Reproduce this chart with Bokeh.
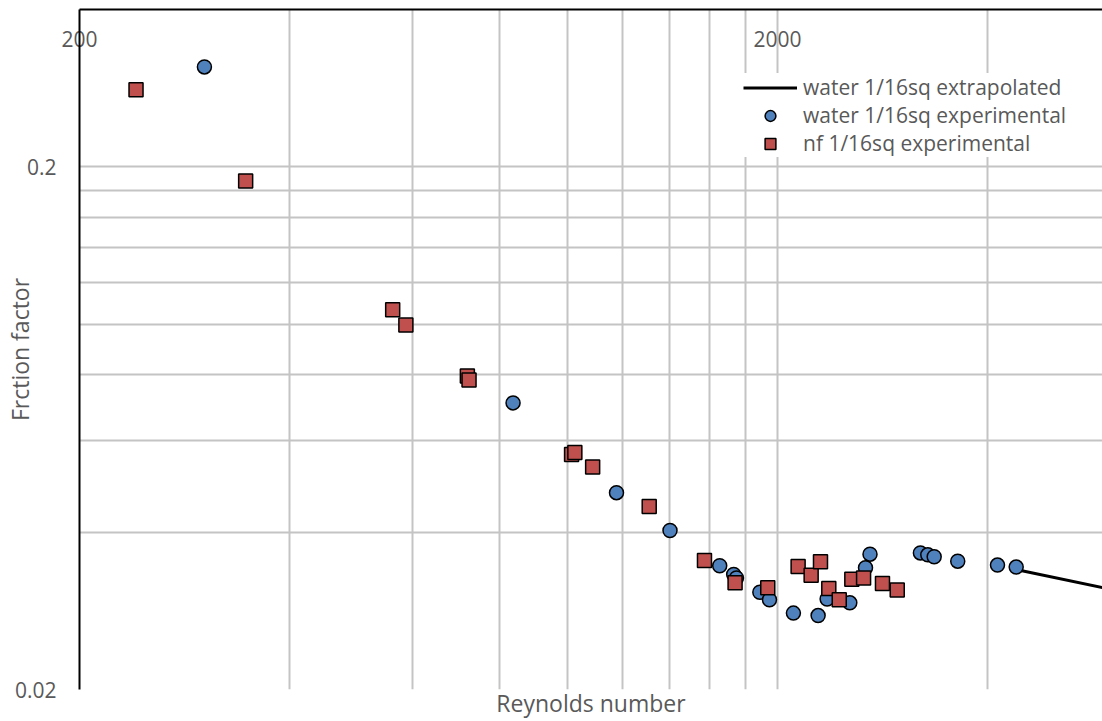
from bokeh.plotting import figure
from bokeh.models import (LogAxis, FixedTicker, Legend, LegendItem, Range1d,
                          CustomJSTickFormatter)
from bokeh.embed import file_html
from bokeh.resources import INLINE

# ---------------- data ----------------
water_re = [302, 836, 1176, 1403, 1653, 1731, 1747, 1887, 1948, 2108, 2287, 2356,
            2539, 2674, 2714, 3205, 3284, 3354, 3625, 4133, 4396]
water_f = [0.3106, 0.0707, 0.0476, 0.0403, 0.0345, 0.0332, 0.0327, 0.0307, 0.0297,
           0.0280, 0.0277, 0.0298, 0.0293, 0.0342, 0.0363, 0.0365, 0.0362, 0.0359,
           0.0352, 0.0346, 0.0343]

nf_re = [241, 346, 562, 587, 719, 723, 1014, 1025, 1087, 1310, 1572, 1739, 1937,
         2141, 2235, 2305, 2369, 2452, 2556, 2657, 2828, 2969]
nf_f = [0.2810, 0.1880, 0.1066, 0.0996, 0.0796, 0.0782, 0.0563, 0.0568, 0.0533,
        0.0448, 0.0353, 0.0320, 0.0313, 0.0344, 0.0331, 0.0351, 0.0312, 0.0297,
        0.0325, 0.0327, 0.0319, 0.0310]

extrap_re = [4410, 6000]
extrap_f = [0.0339, 0.0311]

series_labels = ["water 1/16sq extrapolated", "water 1/16sq experimental",
                 "nf 1/16sq experimental"]

x_label_ticks = [200, 2000]
x_grid_ticks = [400, 600, 800, 1000, 1200, 1400, 1600, 1800, 2000, 4000]
y_label_ticks = [0.02, 0.2]
y_grid_ticks = [0.02, 0.04, 0.06, 0.08, 0.1, 0.12, 0.14, 0.16, 0.18, 0.2]

X_START, X_END = 200, 5844
Y_START, Y_END = 0.02, 0.4

FONT = "Open Sans"
TEXT_COLOR = "#595959"
GRID_COLOR = "#c4c4c4"
BLUE = "#4F81BD"
RED = "#C0504D"

p = figure(width=1102, height=721, x_axis_type="log", y_axis_type="log",
           x_range=Range1d(X_START, X_END), y_range=Range1d(Y_START, Y_END),
           x_axis_location="above", output_backend="svg", toolbar_location=None,
           min_border_left=79, min_border_right=0, min_border_top=9,
           min_border_bottom=32)
p.outline_line_color = None
p.background_fill_color = "white"

# top axis: black line, tick labels hanging inside the plot area
xa = p.xaxis[0]
xa.ticker = FixedTicker(ticks=x_label_ticks)
xa.formatter = CustomJSTickFormatter(code="return String(tick)")
xa.major_tick_line_color = None
xa.minor_tick_line_color = None
xa.major_tick_out = 0
xa.major_tick_in = 0
xa.minor_tick_out = 0
xa.major_label_standoff = -37
xa.major_label_text_font = FONT
xa.major_label_text_font_size = "21px"
xa.major_label_text_color = TEXT_COLOR
xa.axis_line_color = "black"
xa.axis_line_width = 2

# bottom axis: only the title
xb = LogAxis(ticker=FixedTicker(ticks=[]), axis_label="Reynolds number",
             axis_line_color=None, major_tick_line_color=None,
             minor_tick_line_color=None, major_tick_out=0, minor_tick_out=0,
             major_label_standoff=0, axis_label_standoff=-3,
             axis_label_text_font=FONT, axis_label_text_font_size="23px",
             axis_label_text_font_style="normal", axis_label_text_color=TEXT_COLOR)
p.add_layout(xb, "below")

# y axis
ya = p.yaxis[0]
ya.ticker = FixedTicker(ticks=y_label_ticks)
ya.formatter = CustomJSTickFormatter(code="return String(tick)")
ya.major_tick_line_color = None
ya.minor_tick_line_color = None
ya.major_tick_out = 0
ya.minor_tick_out = 0
ya.axis_line_color = "black"
ya.axis_line_width = 2
ya.major_label_text_font = FONT
ya.major_label_text_font_size = "21px"
ya.major_label_text_color = TEXT_COLOR
ya.major_label_standoff = 23
ya.axis_label = "Frction factor"
ya.axis_label_text_font = FONT
ya.axis_label_text_font_size = "23px"
ya.axis_label_text_font_style = "normal"
ya.axis_label_text_color = TEXT_COLOR
ya.axis_label_standoff = -24

# grids
p.xgrid.ticker = FixedTicker(ticks=x_grid_ticks)
p.ygrid.ticker = FixedTicker(ticks=y_grid_ticks)
p.grid.grid_line_color = GRID_COLOR
p.grid.grid_line_width = 2

# series
r_line = p.line(extrap_re, extrap_f, line_color="black", line_width=3)
r_water = p.scatter(water_re, water_f, marker="circle", size=14, fill_color=BLUE,
                    line_color="black", line_width=1.5)
r_nf = p.scatter(nf_re, nf_f, marker="square", size=14, fill_color=RED,
                 line_color="black", line_width=1.5)

legend = Legend(items=[LegendItem(label=series_labels[0], renderers=[r_line]),
                       LegendItem(label=series_labels[1], renderers=[r_water]),
                       LegendItem(label=series_labels[2], renderers=[r_nf])],
                location=(664, 532), orientation="vertical",
                background_fill_color="white", background_fill_alpha=1.0,
                border_line_color=None, label_text_font=FONT,
                label_text_font_size="21px", label_text_color=TEXT_COLOR,
                glyph_width=54, glyph_height=27, label_height=27, spacing=0,
                padding=2, margin=0, label_standoff=6)
p.add_layout(legend)

open("out.html", "w").write(file_html(p, INLINE))
